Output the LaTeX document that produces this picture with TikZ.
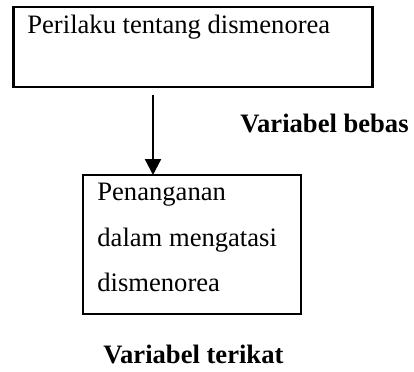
\documentclass[tikz,border=0pt]{standalone}
\usepackage{fontspec}
\setmainfont{Liberation Serif}
\usetikzlibrary{arrows.meta}
\begin{document}
\begin{tikzpicture}[x=0.5pt,y=-0.5pt,
  box/.style={draw,line width=1.3pt,rectangle,inner sep=0pt},
  txt/.style={anchor=base west,inner sep=0pt,font=\fontsize{13.3pt}{16pt}\selectfont},
  btxt/.style={anchor=base west,inner sep=0pt,font=\fontsize{13.3pt}{16pt}\selectfont\bfseries},
  arr/.style={line width=1.1pt,-{Triangle[length=8pt,width=8pt]}}]
\useasboundingbox (0,0) rectangle (414,371);
\node[box,minimum width=359pt*0.5,minimum height=80pt*0.5] (top) at (193,47) {};
\node[box,minimum width=218pt*0.5,minimum height=139pt*0.5] (bot) at (192,244.5) {};
\node[txt] (t1) at (27,33) {Perilaku tentang dismenorea};
\node[txt] (b1) at (97,200) {Penanganan};
\node[txt] (b2) at (97,246) {dalam mengatasi};
\node[txt] (b3) at (97,291) {dismenorea};
\node[btxt] (vb) at (240,132) {Variabel bebas};
\node[btxt] (vt) at (103,363) {Variabel terikat};
\coordinate (a1) at (153,95);
\coordinate (a2) at (153,175);
\draw[arr] (a1) -- (a2);
\end{tikzpicture}
\end{document}
